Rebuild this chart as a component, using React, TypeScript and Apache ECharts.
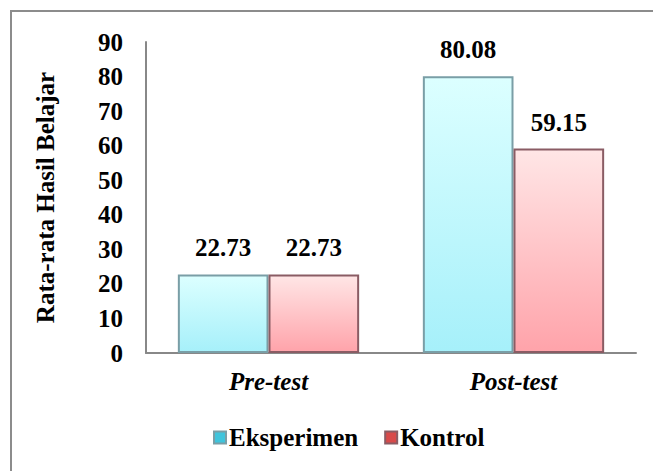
import React, { useEffect, useRef } from "react";
import * as echarts from "echarts";

const categories = ["Pre-test", "Post-test"];
const eksperimen = [22.73, 80.08];
const kontrol = [22.73, 59.15];
const seriesNames = ["Eksperimen", "Kontrol"];

export default function App() {
  const ref = useRef<HTMLDivElement>(null);
  useEffect(() => {
    if (!ref.current) return;
    const chart = echarts.init(ref.current, null, { renderer: "svg" });
    const font = "Liberation Serif";
    const fs = 25;
    const gradCyan = new echarts.graphic.LinearGradient(0, 0, 0, 1, [
      { offset: 0, color: "#dcffff" },
      { offset: 1, color: "#a6f0fa" },
    ]);
    const gradPink = new echarts.graphic.LinearGradient(0, 0, 0, 1, [
      { offset: 0, color: "#ffe6e6" },
      { offset: 1, color: "#ffa3aa" },
    ]);
    const label = {
      show: true,
      position: "top" as const,
      distance: 14,
      fontFamily: font,
      fontWeight: "bold" as const,
      fontSize: fs,
      color: "#000",
      formatter: (p: any) => p.value.toFixed(2),
    };
    chart.setOption({
      animation: false,
      backgroundColor: "#fff",
      graphic: [
        {
          type: "polyline",
          shape: { points: [[11, 480], [11, 11], [660, 11]] },
          style: { stroke: "#8c8c8c", lineWidth: 2, fill: "none" },
          silent: true,
        },
      ],
      grid: { left: 146, right: 17, top: 42, bottom: 118, containLabel: false },
      legend: {
        bottom: 16,
        left: 208,
        itemWidth: 12,
        itemHeight: 12,
        itemGap: 26,
        icon: "rect",
        textStyle: { fontFamily: font, fontWeight: "bold", fontSize: fs, color: "#000", padding: [0, 0, 0, -2] },
        data: [
          { name: seriesNames[0], itemStyle: { color: "#3fc4dc" } },
          { name: seriesNames[1], itemStyle: { color: "#d84a4a" } },
        ],
      },
      xAxis: {
        type: "category",
        data: categories,
        axisLine: { lineStyle: { color: "#888", width: 2 } },
        axisTick: { show: false },
        axisLabel: {
          margin: 16,
          fontFamily: font,
          fontWeight: "bold",
          fontStyle: "italic",
          fontSize: fs,
          color: "#000",
        },
      },
      yAxis: {
        type: "value",
        min: 0,
        max: 90,
        interval: 10,
        name: "Rata-rata Hasil Belajar",
        nameLocation: "middle",
        nameGap: 88,
        nameTextStyle: { fontFamily: font, fontWeight: "bold", fontSize: fs, color: "#000" },
        axisLine: { show: true, lineStyle: { color: "#888", width: 2 } },
        axisTick: { show: false },
        splitLine: { show: false },
        axisLabel: { margin: 23, fontFamily: font, fontWeight: "bold", fontSize: fs, color: "#000" },
      },
      series: [
        {
          name: seriesNames[0],
          type: "bar",
          data: eksperimen,
          barGap: "0%",
          barCategoryGap: "26%",
          itemStyle: { color: gradCyan, borderColor: "#7a9ea6", borderWidth: 2 },
          label,
        },
        {
          name: seriesNames[1],
          type: "bar",
          data: kontrol,
          itemStyle: { color: gradPink, borderColor: "#8a5c64", borderWidth: 2 },
          label,
        },
      ],
    });
    return () => chart.dispose();
  }, []);
  return (
    <div
      ref={ref}
      style={{ position: "fixed", left: 0, top: 0, width: 653, height: 471 }}
    />
  );
}
